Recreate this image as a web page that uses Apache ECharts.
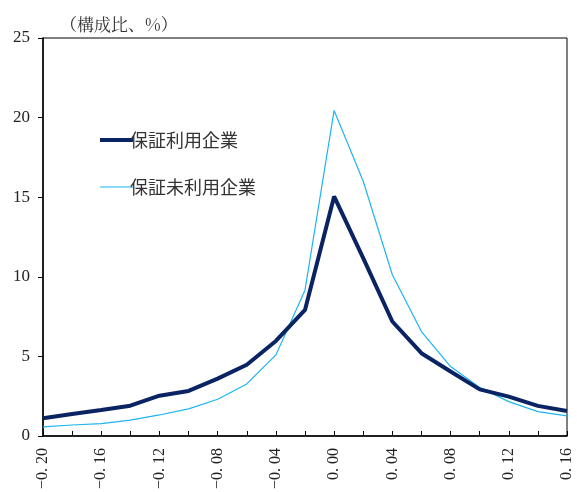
<!DOCTYPE html>
<html>
<head>
<meta charset="utf-8">
<script src="https://cdn.jsdelivr.net/npm/echarts@6/dist/echarts.min.js"></script>
<style>
  html, body { margin: 0; padding: 0; background: #fff; }
  #chart { width: 577px; height: 492px; }
</style>
</head>
<body>
<div id="chart"></div>
<script>
// 変化率の区分（横軸）
const categories = ['-0.20', '-0.18', '-0.16', '-0.14', '-0.12', '-0.10', '-0.08', '-0.06', '-0.04', '-0.02',
  '0.00', '0.02', '0.04', '0.06', '0.08', '0.10', '0.12', '0.14', '0.16'];

// 構成比（%）
const guaranteed = [1.11, 1.38, 1.63, 1.90, 2.53, 2.83, 3.60, 4.47, 5.97, 7.92,
  15.05, 11.17, 7.19, 5.20, 4.05, 2.93, 2.47, 1.89, 1.57];
const nonGuaranteed = [0.57, 0.69, 0.78, 1.00, 1.32, 1.70, 2.31, 3.27, 5.09, 9.16,
  20.45, 16.00, 10.13, 6.56, 4.36, 3.04, 2.16, 1.53, 1.26];

const seriesNames = ['保証利用企業', '保証未利用企業'];
const yTicks = [0, 5, 10, 15, 20, 25];

const serifFont = '"Liberation Serif", "DejaVu Serif", "Noto Sans CJK JP", serif';
const sansFont = '"Noto Sans CJK JP", "Noto Sans", sans-serif';

const chart = echarts.init(document.getElementById('chart'));
chart.setOption({
  animation: false,
  backgroundColor: '#ffffff',
  title: {
    text: '（構成比、%）',
    left: 55,
    top: 11,
    textStyle: { fontFamily: '"Noto Serif CJK JP", "Noto Sans CJK JP", serif', fontSize: 17, fontWeight: 'normal', color: '#333' }
  },
  legend: {
    orient: 'vertical',
    left: 95,
    top: 126,
    itemWidth: 33,
    itemHeight: 18,
    itemGap: 29,
    textStyle: { fontFamily: sansFont, fontSize: 18, color: '#333', padding: [0, 0, 0, -8] },
    data: [
      { name: seriesNames[0], icon: 'path://M0,0 L100,0 L100,12 L0,12 Z', itemStyle: { color: '#0a2463' } },
      { name: seriesNames[1], icon: 'path://M0,0 L100,0 L100,3 L0,3 Z', itemStyle: { color: '#1eb4f0' } }
    ]
  },
  grid: {
    left: 43,
    right: 10,
    top: 38,
    bottom: 56,
    show: true,
    borderColor: '#000',
    borderWidth: 1,
    backgroundColor: 'transparent'
  },
  xAxis: {
    type: 'category',
    data: categories,
    boundaryGap: false,
    axisLine: { lineStyle: { color: '#000', width: 1.5 } },
    axisTick: { inside: true, length: 5, interval: 0, lineStyle: { color: '#000' } },
    axisLabel: {
      interval: 1,
      rotate: 90,
      margin: 12,
      fontFamily: serifFont,
      fontSize: 16,
      color: '#222',
      formatter: v => v.replace('-', '−').replace('.', '. ')
    },
    splitLine: { show: false }
  },
  yAxis: {
    type: 'value',
    min: yTicks[0],
    max: yTicks[yTicks.length - 1],
    interval: 5,
    axisLine: { show: true, lineStyle: { color: '#000', width: 1.5 } },
    axisTick: { show: true, inside: false, length: 5, lineStyle: { color: '#000' } },
    axisLabel: { fontFamily: serifFont, fontSize: 17, color: '#222', margin: 13 },
    splitLine: { show: false }
  },
  series: [
    {
      name: seriesNames[0],
      type: 'line',
      data: guaranteed,
      symbol: 'none',
      z: 3,
      lineStyle: { color: '#0a2463', width: 4 },
      itemStyle: { color: '#0a2463' }
    },
    {
      name: seriesNames[1],
      type: 'line',
      data: nonGuaranteed,
      symbol: 'none',
      z: 2,
      lineStyle: { color: '#1eb4f0', width: 1.2 },
      itemStyle: { color: '#1eb4f0' }
    }
  ]
});
</script>
</body>
</html>
